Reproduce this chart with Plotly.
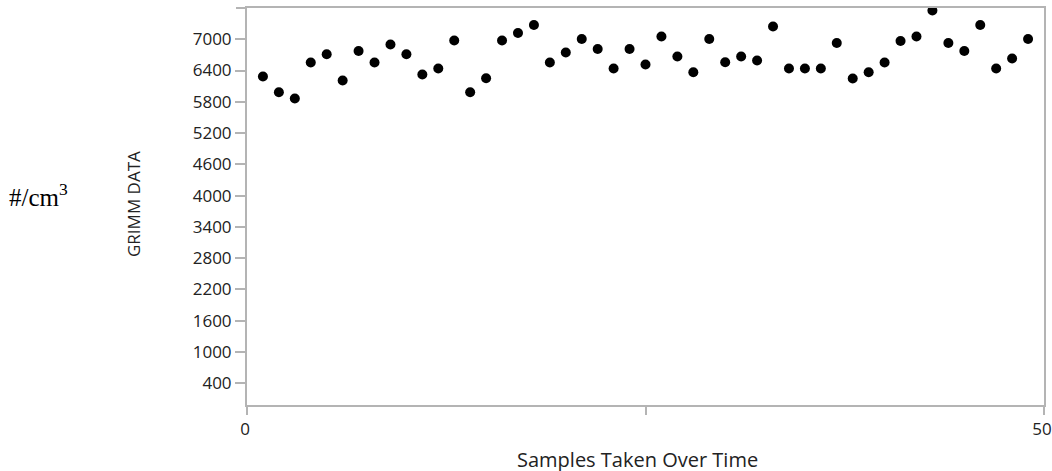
import plotly.graph_objects as go

samples = list(range(1, 50))
grimm = [6284, 5983, 5862, 6553, 6712, 6207, 6775, 6553, 6898, 6712,
         6323, 6438, 6975, 5983, 6252, 6975, 7121, 7274, 6553, 6745,
         7006, 6814, 6438, 6814, 6515, 7052, 6668, 6367, 7006, 6559,
         6668, 6591, 7244, 6438, 6438, 6438, 6929, 6246, 6367, 6553,
         6967, 7052, 7551, 6929, 6775, 7274, 6438, 6630, 7006]
y_ticks = list(range(400, 7001, 600))
x_ticks = [0, 25, 50]
x_ticktext = ["0", "", "50"]

axis_col = "#b4b4b4"
txt_col = "#222222"
font_fam = "Open Sans"

fig = go.Figure()
fig.add_trace(go.Scatter(x=samples, y=grimm, mode="markers",
                         marker=dict(color="black", size=10),
                         showlegend=False, hoverinfo="x+y"))

fig.update_layout(
    width=1052, height=471, autosize=False,
    margin=dict(l=247, r=8, t=8, b=66, autoexpand=False),
    paper_bgcolor="white", plot_bgcolor="white",
    font=dict(family=font_fam, color=txt_col),
)
fig.update_xaxes(range=[0, 50], tickvals=x_ticks, ticktext=x_ticktext,
                 ticks="outside", ticklen=8, tickcolor=axis_col, tickwidth=2,
                 showline=True, linecolor=axis_col, linewidth=2, mirror=True,
                 showgrid=False, zeroline=False, automargin=False,
                 ticklabeloverflow="allow", ticklabelshift=-2,
                 tickfont=dict(size=17, family=font_fam, color=txt_col))
fig.update_yaxes(range=[-20, 7600], tickvals=y_ticks,
                 ticks="outside", ticklen=10, tickcolor=axis_col, tickwidth=2,
                 showline=True, linecolor=axis_col, linewidth=2, mirror=True,
                 showgrid=False, zeroline=False, automargin=False,
                 tickfont=dict(size=17, family=font_fam, color=txt_col))

# top border extends slightly left of the y axis
fig.add_shape(type="line", xref="paper", yref="paper",
              x0=-11 / 797, x1=0, y0=1, y1=1,
              line=dict(color=axis_col, width=2))

fig.add_annotation(text="GRIMM DATA", textangle=-90, showarrow=False,
                   xref="paper", yref="paper", x=(133 - 247) / 797, y=(405 - 204) / 397,
                   xanchor="center", yanchor="middle",
                   font=dict(size=17, family=font_fam, color=txt_col))
fig.add_annotation(text="#/cm<sup>3</sup>", showarrow=False,
                   xref="paper", yref="paper", x=(7 - 247) / 797,
                   y=(405 - 195) / 397, xanchor="left", yanchor="middle",
                   font=dict(size=25, family="Liberation Serif", color="black"))
fig.add_annotation(text="Samples Taken Over Time", showarrow=False,
                   xref="paper", yref="paper", x=(637 - 247) / 797,
                   y=(405 - 459) / 397, xanchor="center", yanchor="middle",
                   font=dict(size=20, family=font_fam, color=txt_col))

fig.write_html("out.html", config={"displayModeBar": False},
               post_script="document.body.style.margin='0';")
